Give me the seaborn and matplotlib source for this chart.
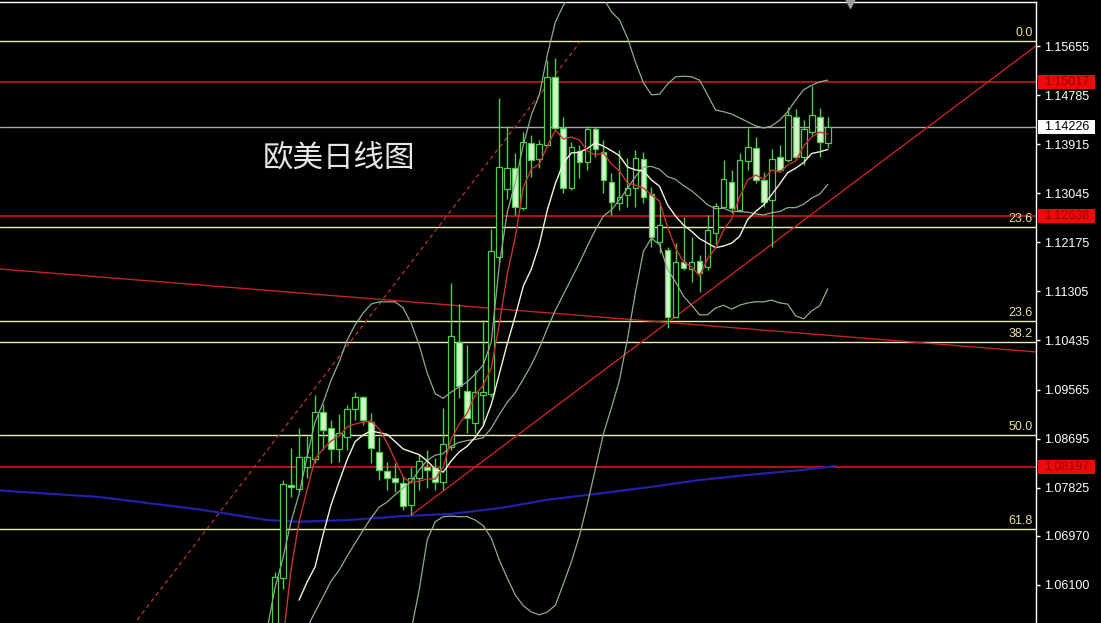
import matplotlib
matplotlib.use("Agg")
import matplotlib.pyplot as plt
import matplotlib.transforms as mtransforms
from matplotlib.patches import Rectangle
import seaborn as sns

# ---- daily candles (EUR/USD), oldest -> newest ----
opens = [1.05124, 1.06223, 1.07872, 1.07801, 1.08191, 1.08333, 1.09166, 1.08883, 1.08510, 1.08723,
         1.09219, 1.09432, 1.08989, 1.08457, 1.08120, 1.07996, 1.07907, 1.07517, 1.07996, 1.08191,
         1.08173, 1.07925, 1.08546, 1.10407, 1.09539, 1.08971, 1.09468, 1.09485, 1.11914, 1.13120,
         1.13492, 1.12783, 1.13936, 1.13652, 1.13900, 1.15106, 1.14202, 1.13138, 1.13794, 1.13599,
         1.14184, 1.13776, 1.13244, 1.12872, 1.13014, 1.13138, 1.13652, 1.13031, 1.12180, 1.12039,
         1.10851, 1.11826, 1.11702, 1.11844, 1.11737, 1.12340, 1.12801, 1.13244, 1.12748, 1.13617,
         1.13847, 1.13280, 1.12925, 1.13687, 1.13634, 1.14397, 1.13687, 1.14131, 1.14397, 1.13936]
highs = [1.06329, 1.07961, 1.08528, 1.08883, 1.08741, 1.09468, 1.09308, 1.09024, 1.09131, 1.09290,
         1.09521, 1.09450, 1.09149, 1.08723, 1.08280, 1.08262, 1.08014, 1.08191, 1.08422, 1.08493,
         1.08351, 1.09237, 1.11453, 1.11081, 1.10354, 1.09911, 1.10797, 1.12411, 1.14733, 1.14237,
         1.13758, 1.14131, 1.14077, 1.13989, 1.15407, 1.15443, 1.14397, 1.13953, 1.13900, 1.14237,
         1.14219, 1.13989, 1.13404, 1.13812, 1.13670, 1.13812, 1.13776, 1.13156, 1.12872, 1.12092,
         1.12163, 1.12624, 1.12269, 1.11950, 1.12659, 1.12872, 1.13634, 1.13457, 1.13758, 1.14202,
         1.14042, 1.13421, 1.13829, 1.13900, 1.14574, 1.14538, 1.14343, 1.14946, 1.14556, 1.14397]
lows = [1.05035, 1.06028, 1.07659, 1.07748, 1.07996, 1.08262, 1.08493, 1.08262, 1.08280, 1.08493,
        1.09024, 1.08936, 1.08262, 1.07961, 1.07783, 1.07748, 1.07429, 1.07340, 1.07783, 1.07819,
        1.07783, 1.07783, 1.08493, 1.09415, 1.08794, 1.08794, 1.08936, 1.09432, 1.11826, 1.12943,
        1.12659, 1.12748, 1.13333, 1.13492, 1.13865, 1.14166, 1.13049, 1.13102, 1.13315, 1.13457,
        1.13687, 1.13049, 1.12659, 1.12748, 1.12801, 1.12801, 1.12872, 1.12092, 1.11985, 1.10656,
        1.10833, 1.11684, 1.11471, 1.11294, 1.11684, 1.12127, 1.12783, 1.12695, 1.12712, 1.13457,
        1.13226, 1.12801, 1.12092, 1.13421, 1.13599, 1.13634, 1.13545, 1.14077, 1.13687, 1.13847]
closes = [1.06241, 1.07890, 1.07837, 1.08368, 1.08368, 1.09166, 1.08847, 1.08510, 1.08794, 1.09219,
          1.09432, 1.09024, 1.08528, 1.08138, 1.07996, 1.07925, 1.07500, 1.07996, 1.08298, 1.08138,
          1.07925, 1.08599, 1.10514, 1.09627, 1.09060, 1.09521, 1.09521, 1.12021, 1.13510, 1.13492,
          1.12801, 1.13953, 1.13634, 1.13918, 1.15106, 1.14202, 1.13138, 1.13865, 1.13599, 1.14184,
          1.13829, 1.13280, 1.12890, 1.12978, 1.13138, 1.13670, 1.12978, 1.12269, 1.12482, 1.10851,
          1.11826, 1.11719, 1.11826, 1.11631, 1.12393, 1.12819, 1.13297, 1.12783, 1.13634, 1.13865,
          1.13280, 1.12890, 1.13652, 1.13457, 1.14432, 1.13687, 1.14184, 1.14432, 1.13953, 1.14226]

# ---- indicators (first candle index given by *_start) ----
ma5_start = 1
ma5 = [1.05124, 1.06365, 1.07216, 1.07783, 1.08333, 1.08510, 1.08652, 1.08741, 1.08900, 1.08953,
       1.08989, 1.09007, 1.08865, 1.08617, 1.08315, 1.08014, 1.07907, 1.07943, 1.07978, 1.07978,
       1.08191, 1.08688, 1.08953, 1.09149, 1.09468, 1.09645, 1.09946, 1.10726, 1.11613, 1.12269,
       1.13155, 1.13475, 1.13563, 1.13882, 1.14166, 1.14007, 1.14042, 1.13989, 1.13794, 1.13723,
       1.13758, 1.13563, 1.13439, 1.13226, 1.13191, 1.13138, 1.13014, 1.12907, 1.12446, 1.12074,
       1.11826, 1.11737, 1.11578, 1.11879, 1.12074, 1.12393, 1.12588, 1.12978, 1.13280, 1.13368,
       1.13297, 1.13457, 1.13421, 1.13546, 1.13616, 1.13882, 1.14042, 1.14131, 1.14095]
ma10_start = 3
ma10 = [1.0583, 1.0615, 1.0642, 1.0699, 1.0752, 1.0793, 1.0832, 1.0864, 1.0876, 1.0883,
        1.0880, 1.0877, 1.0864, 1.0851, 1.0846, 1.0841, 1.0830, 1.0815, 1.0810, 1.0830,
        1.0846, 1.0856, 1.0872, 1.0892, 1.0930, 1.0984, 1.1038, 1.1087, 1.1140, 1.1170,
        1.1214, 1.1275, 1.1322, 1.1358, 1.1376, 1.1377, 1.1384, 1.1394, 1.1388, 1.1380,
        1.1371, 1.1351, 1.1346, 1.1344, 1.1328, 1.1317, 1.1284, 1.1264, 1.1248, 1.1237,
        1.1224, 1.1216, 1.1208, 1.1211, 1.1216, 1.1228, 1.1258, 1.1272, 1.1284, 1.1302,
        1.1321, 1.1341, 1.1349, 1.1359, 1.1375, 1.1378, 1.1382]
bb_up_start = -1
bb_up = [1.0530, 1.0605, 1.0658, 1.0722, 1.0771, 1.0837, 1.0899, 1.0933, 1.0973, 1.1005,
         1.1044, 1.1071, 1.1092, 1.1108, 1.1112, 1.1112, 1.1112, 1.1101, 1.1074, 1.1035,
         1.0986, 1.0949, 1.0941, 1.0952, 1.0961, 1.0970, 1.0984, 1.1000, 1.1041, 1.1177,
         1.1271, 1.1324, 1.1390, 1.1443, 1.1479, 1.1550, 1.1608, 1.1638, 1.1656, 1.1665,
         1.1668, 1.1665, 1.1651, 1.1626, 1.1612, 1.1580, 1.1537, 1.1500, 1.1479, 1.1480,
         1.1498, 1.1511, 1.1512, 1.1511, 1.1505, 1.1479, 1.1452, 1.1449, 1.1445, 1.1438,
         1.1431, 1.1424, 1.1420, 1.1424, 1.1434, 1.1449, 1.1470, 1.1488, 1.1496, 1.1502, 1.1505]
bb_mid_start = 4
bb_mid = [1.0534, 1.0562, 1.0589, 1.0617, 1.0636, 1.0661, 1.0684, 1.0707, 1.0729, 1.0748,
          1.0757, 1.0770, 1.0782, 1.0793, 1.0814, 1.0831, 1.0840, 1.0843, 1.0856, 1.0863,
          1.0866, 1.0868, 1.0871, 1.0888, 1.0912, 1.0934, 1.0951, 1.0975, 1.1000, 1.1030,
          1.1065, 1.1097, 1.1125, 1.1153, 1.1181, 1.1211, 1.1240, 1.1264, 1.1275, 1.1293,
          1.1313, 1.1334, 1.1351, 1.1352, 1.1347, 1.1334, 1.1329, 1.1318, 1.1309, 1.1297,
          1.1284, 1.1277, 1.1278, 1.1272, 1.1272, 1.1271, 1.1268, 1.1266, 1.1270, 1.1272,
          1.1279, 1.1279, 1.1285, 1.1296, 1.1303, 1.1320]
bb_low_start = 17
bb_low = [1.0530, 1.0601, 1.0690, 1.0722, 1.0731, 1.0732, 1.0731, 1.0731, 1.0725, 1.0715, 1.0693,
          1.0654, 1.0622, 1.0592, 1.0573, 1.0562, 1.0557, 1.0562, 1.0574, 1.0612, 1.0651,
          1.0697, 1.0754, 1.0816, 1.0878, 1.0924, 1.0973, 1.1046, 1.1129, 1.1202, 1.1225,
          1.1213, 1.1170, 1.1147, 1.1122, 1.1106, 1.1089, 1.1089, 1.1101, 1.1106, 1.1099,
          1.1106, 1.1110, 1.1112, 1.1112, 1.1115, 1.1110, 1.1108, 1.1087, 1.1082, 1.1096, 1.1105, 1.1135]
ma_long_x = [-35, -22, -9, -1, 3, 9, 16, 22, 28, 34, 41, 47, 53, 59, 66, 70]
ma_long = [1.0778, 1.0766, 1.0743, 1.0725, 1.0722, 1.0725, 1.0732, 1.0736, 1.0746, 1.0761,
           1.0773, 1.0784, 1.0796, 1.0805, 1.0814, 1.0821]

# ---- drawn objects ----
fib_levels = [1.15744, 1.12446, 1.10780, 1.10407, 1.08758, 1.07092]
fib_labels = ["0.0", "23.6", "23.6", "38.2", "50.0", "61.8"]
red_levels = [1.15017, 1.12638, 1.08197]
last_price = 1.14226
trend_down_x, trend_down_y = [-35, 96], [1.1171, 1.1022]
trend_up_x, trend_up_y = [17, 95], [1.0734, 1.1566]
channel_x, channel_y = [-17.2, 38.1], [1.0548, 1.1573]

tick_vals = [1.15655, 1.14785, 1.13915, 1.13045, 1.12175, 1.11305,
             1.10435, 1.09565, 1.08695, 1.07825, 1.06970, 1.06100]

GREEN = "#4fc94f"
BEAR_FILL = "#cff5c6"
BAND = "#8fab8f"

sns.set_theme(style="dark", rc={"axes.facecolor": "black", "figure.facecolor": "black"})
plt.rcParams["font.family"] = ["Liberation Sans", "DejaVu Sans"]

fig = plt.figure(figsize=(11.01, 6.23), dpi=100)
ax = fig.add_axes([0, 0, 1036 / 1101, 621 / 623])
ax.set_xlim(-34.33, 95.0)
ax.set_ylim(1.05425, 1.16436)
ax.grid(False)

# horizontal levels
for lv in fib_levels:
    ax.axhline(lv, color="#eeeeb4", lw=1.0, zorder=1)
for lv in red_levels:
    ax.axhline(lv, color="#c41414", lw=1.3, zorder=1)
ax.axhline(last_price, color="#a8a8a8", lw=1.0, zorder=1)

# trend lines
sns.lineplot(x=trend_down_x, y=trend_down_y, ax=ax, color="#c42424", lw=1.0, zorder=1)
sns.lineplot(x=trend_up_x, y=trend_up_y, ax=ax, color="#c42424", lw=1.0, zorder=1)
ax.plot(channel_x, channel_y, color="#a83030", lw=1.0, linestyle=(0, (3, 2.5)), zorder=1)
sns.lineplot(x=ma_long_x, y=ma_long, ax=ax, color="#2020a8", lw=1.6, zorder=1)

# candles
idx = list(range(len(closes)))
ax.vlines(idx, lows, highs, color=GREEN, lw=1.0, zorder=2)
for i in idx:
    bull = closes[i] >= opens[i]
    ax.bar(i, closes[i] - opens[i], bottom=opens[i], width=0.72,
           facecolor="black" if bull else BEAR_FILL, edgecolor=GREEN, lw=0.9, zorder=3)

# indicators
def series(start, vals):
    return list(range(start, start + len(vals))), vals

for start, vals, col, lw in [(bb_up_start, bb_up, BAND, 0.9), (bb_mid_start, bb_mid, BAND, 0.9),
                             (bb_low_start, bb_low, BAND, 0.9), (ma10_start, ma10, "#f4f4dc", 1.0),
                             (ma5_start, ma5, "#c83232", 1.0)]:
    xs, ys = series(start, vals)
    sns.lineplot(x=xs, y=ys, ax=ax, color=col, lw=lw, zorder=4)

# fib labels
for lv, lab in zip(fib_levels, fib_labels):
    ax.text(94.6, lv + 0.0003, lab, ha="right", va="bottom", color="#e8e2a2", fontsize=9, zorder=5)

# title
ax.text(8.0, 1.1367, "欧美日线图", ha="center", va="center", color="#e6e6e6", fontsize=22,
        fontweight="light", family=["Noto Sans CJK SC", "DejaVu Sans"], zorder=5)

# chart shift marker
ax.plot([71.8], [1.1641], marker="v", ms=7, color="#9c9c9c", clip_on=False, zorder=6)

# right price axis
ax.yaxis.tick_right()
ax.set_yticks(tick_vals)
ax.set_yticklabels([f"{v:.5f}" for v in tick_vals])
ax.set_xticks([])
ax.tick_params(axis="y", right=True, left=False, labelright=True, labelleft=False,
               length=3, width=1, color="white", labelcolor="white", labelsize=9, pad=2.5)
for s in ["left", "bottom"]:
    ax.spines[s].set_visible(False)
for s in ["top", "right"]:
    ax.spines[s].set_visible(True)
    ax.spines[s].set_color("white")
    ax.spines[s].set_linewidth(1.0)

trans = mtransforms.blended_transform_factory(ax.transAxes, ax.transData)
half = 0.00122
for lv in red_levels + [last_price]:
    red = lv != last_price
    ax.add_patch(Rectangle((1.0019, lv - half), 0.055, 2 * half, transform=trans, clip_on=False,
                           facecolor="#ee0a0a" if red else "white", edgecolor="none", zorder=6))
    ax.text(1.0294, lv, f"{lv:.5f}", transform=trans, ha="center", va="center", fontsize=9,
            color="#9a0000" if red else "black", clip_on=False, zorder=7)

fig.savefig("out.png", dpi=100, facecolor="black")
